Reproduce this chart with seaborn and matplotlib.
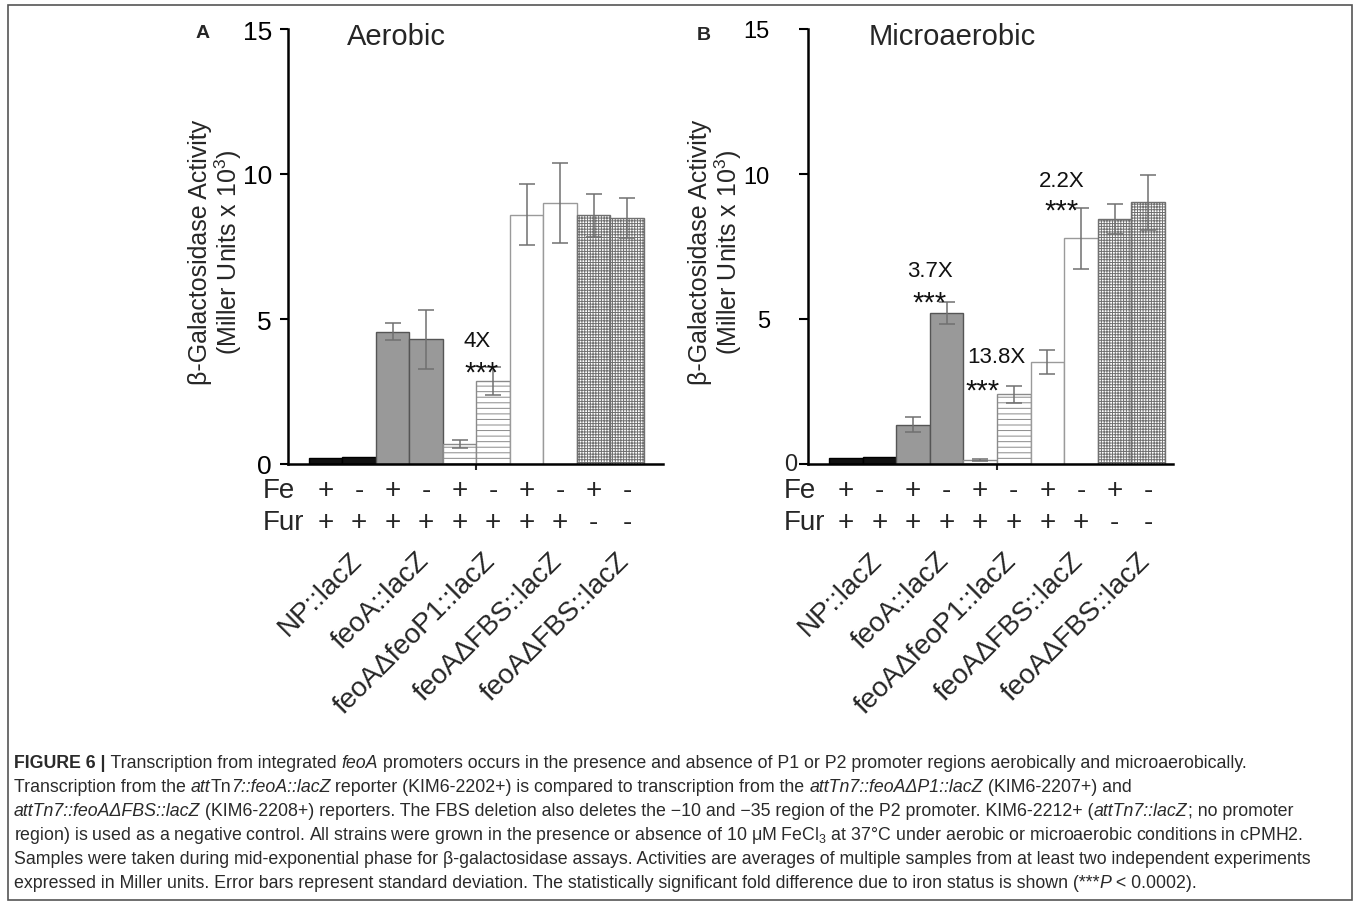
import pandas as pd
import seaborn as sns
import matplotlib.pyplot as plt
import matplotlib.transforms as mtransforms
from matplotlib.patches import Rectangle

# ---- data (bar order: Fe +/- for each strain) ----
strains = ["NP::lacZ", "feoA::lacZ", "feoAΔfeoP1::lacZ", "feoAΔFBS::lacZ", "feoAΔFBS::lacZ"]
fe_signs = ["+", "-", "+", "-", "+", "-", "+", "-", "+", "-"]
fur_signs = ["+", "+", "+", "+", "+", "+", "+", "+", "-", "-"]

aerobic_mean = [0.20, 0.25, 4.56, 4.30, 0.69, 2.87, 8.59, 9.01, 8.57, 8.48]
aerobic_sd = [0.0, 0.0, 0.29, 1.02, 0.15, 0.49, 1.05, 1.38, 0.75, 0.70]
micro_mean = [0.20, 0.25, 1.35, 5.20, 0.14, 2.41, 3.52, 7.79, 8.45, 9.03]
micro_sd = [0.0, 0.0, 0.26, 0.37, 0.02, 0.29, 0.42, 1.05, 0.52, 0.95]

# fold-change notes: text, bar position, value (baseline)
aerobic_notes = [("4X", 4.51, 4.07), ("***", 4.66, 2.86)]
micro_notes = [("3.7X", 2.50, 6.49), ("***", 2.50, 5.28),
               ("13.8X", 4.47, 3.52), ("***", 4.08, 2.24),
               ("2.2X", 6.43, 9.60), ("***", 6.43, 8.45)]

# bar styles per bar
fills = ["#111111"] * 2 + ["#999999"] * 2 + ["white"] * 6
edges = ["#000000"] * 2 + ["#555555"] * 2 + ["#8a8a8a"] * 2 + ["#9a9a9a"] * 2 + ["#707070"] * 2
hatches = [None] * 4 + ["---"] * 2 + [None] * 2 + ["++++++"] * 2

W, H = 1360, 904

sns.set_style("ticks")
plt.rcParams["font.family"] = ["Liberation Sans", "DejaVu Sans"]
plt.rcParams["mathtext.fontset"] = "custom"
plt.rcParams["mathtext.rm"] = "Liberation Sans"
plt.rcParams["mathtext.it"] = "Liberation Sans:italic"
plt.rcParams["mathtext.bf"] = "Liberation Sans:bold"
plt.rcParams["hatch.linewidth"] = 0.7

fig = plt.figure(figsize=(W / 100, H / 100), dpi=100)


def px_axes(left, top, right, bottom):
    return fig.add_axes([left / W, 1 - bottom / H, (right - left) / W, (bottom - top) / H])


def draw_panel(ax, means, sds, notes, xlim, tick_size, tick_len, tick_pad):
    df = pd.DataFrame({"bar": list(range(10)), "value": means})
    sns.barplot(data=df, x="bar", y="value", ax=ax, width=1.0, color="white",
                saturation=1, errorbar=None, linewidth=1.0)
    for patch, fc, ec, hatch in zip(ax.patches, fills, edges, hatches):
        patch.set_facecolor(fc)
        patch.set_edgecolor(ec)
        patch.set_linewidth(1.0)
        if hatch:
            patch.set_hatch(hatch)

    pos = [i for i, s in enumerate(sds) if s > 0]
    ax.errorbar(pos, [means[i] for i in pos], yerr=[sds[i] for i in pos], fmt="none",
                ecolor="#707070", elinewidth=1.1, capsize=5.5, capthick=1.1, zorder=5)

    for text, x, y in notes:
        size = 21 if text == "***" else 16
        ax.text(x, y, text, fontsize=size, ha="center", va="baseline", color="#111111", zorder=6)

    ax.set_xlim(*xlim)
    ax.set_ylim(0, 15)
    ax.set_yticks([0, 5, 10, 15])
    ax.set_xticks([4.5])
    ax.set_xticklabels([""])
    ax.set_xlabel("")
    ax.set_ylabel("")
    sns.despine(ax=ax)
    for side in ("left", "bottom"):
        ax.spines[side].set_linewidth(1.8)
        ax.spines[side].set_color("black")
    ax.tick_params(axis="y", labelsize=tick_size, length=tick_len, width=1.5, pad=tick_pad,
                   direction="out", colors="black")
    ax.tick_params(axis="x", length=4, width=1.5, direction="out")

    # Fe / Fur rows and strain labels below the axis
    trans = mtransforms.blended_transform_factory(ax.transData, ax.transAxes)
    for i in range(10):
        ax.text(i, -0.076, fe_signs[i], transform=trans, fontsize=20, ha="center",
                va="baseline", clip_on=False)
        ax.text(i, -0.150, fur_signs[i], transform=trans, fontsize=20, ha="center",
                va="baseline", clip_on=False)
    ax.text(-0.067, -0.076, "Fe", transform=ax.transAxes, fontsize=20, ha="left", va="baseline")
    ax.text(-0.067, -0.150, "Fur", transform=ax.transAxes, fontsize=20, ha="left", va="baseline")
    for k, name in enumerate(strains):
        ax.text(2 * k + 0.5 + 0.45, -0.212, name, transform=trans, fontsize=20, rotation=45,
                rotation_mode="anchor", ha="right", va="center", clip_on=False)


ax_a = px_axes(288, 30, 663, 465)
ax_b = px_axes(808, 30, 1173, 465)

draw_panel(ax_a, aerobic_mean, aerobic_sd, aerobic_notes, (-1.127, 10.07), 19, 5.8, 5.8)
draw_panel(ax_b, micro_mean, micro_sd, micro_notes, (-1.125, 9.74), 17, 6.5, 21)

# panel B draws its zero label close to the axis
ax_b.set_yticklabels(["", "5", "10", "15"])
ax_b.text(-0.030, 0, "0", transform=mtransforms.blended_transform_factory(ax_b.transAxes, ax_b.transData),
          fontsize=17, ha="right", va="center")

# titles, panel letters, y labels
ax_a.text(0.29, 0.984, "Aerobic", transform=ax_a.transAxes, fontsize=21, ha="center", va="center")
ax_b.text(0.395, 0.984, "Microaerobic", transform=ax_b.transAxes, fontsize=21, ha="center", va="center")
fig.text(203 / W, 1 - 33 / H, "A", fontsize=14, fontweight="bold", ha="center", va="center")
fig.text(704 / W, 1 - 35 / H, "B", fontsize=14, fontweight="bold", ha="center", va="center")
ylab = "β-Galactosidase Activity\n(Miller Units x 10$^3$)"
fig.text(216 / W, 1 - 252 / H, ylab, fontsize=18, rotation=90, ha="center", va="center",
         linespacing=1.05)
fig.text(716 / W, 1 - 252 / H, ylab, fontsize=18, rotation=90, ha="center", va="center",
         linespacing=1.05)

# ---- caption with mixed italic / bold runs ----
caption = [
    [("FIGURE 6 |", "b"), (" Transcription from integrated ", ""), ("feoA", "i"),
     (" promoters occurs in the presence and absence of P1 or P2 promoter regions aerobically and microaerobically.", "")],
    [("Transcription from the ", ""), ("att", "i"), ("Tn", ""), ("7::feoA::lacZ", "i"),
     (" reporter (KIM6-2202+) is compared to transcription from the ", ""), ("attTn7::feoAΔP1::lacZ", "i"),
     (" (KIM6-2207+) and", "")],
    [("attTn7::feoAΔFBS::lacZ", "i"),
     (" (KIM6-2208+) reporters. The FBS deletion also deletes the \u221210 and \u221235 region of the P2 promoter. KIM6-2212+ (", ""),
     ("attTn7::lacZ", "i"), ("; no promoter", "")],
    [("region) is used as a negative control. All strains were grown in the presence or absence of 10 \u03bcM FeCl$_3$ at 37\u00b0C under aerobic or microaerobic conditions in cPMH2.", "")],
    [("Samples were taken during mid-exponential phase for \u03b2-galactosidase assays. Activities are averages of multiple samples from at least two independent experiments", "")],
    [("expressed in Miller units. Error bars represent standard deviation. The statistically significant fold difference due to iron status is shown (***", ""),
     ("P", "i"), (" < 0.0002).", "")],
]
cap_size = 12.8
cap_baselines = [768, 792, 816, 840, 864, 888]
renderer = fig.canvas.get_renderer()
ident = mtransforms.IdentityTransform()


def run_width(text, style):
    kw = dict(fontsize=cap_size, fontstyle="italic" if "i" in style else "normal",
              fontweight="bold" if "b" in style else "normal")
    t1 = fig.text(0, 0, text + "|", transform=ident, **kw)
    t2 = fig.text(0, 0, "|", transform=ident, **kw)
    w = t1.get_window_extent(renderer).width - t2.get_window_extent(renderer).width
    t1.remove()
    t2.remove()
    return w


for line, base in zip(caption, cap_baselines):
    x = 14
    for text, style in line:
        fig.text(x, H - base, text, transform=ident, fontsize=cap_size, color="#2a2a2a",
                 fontstyle="italic" if "i" in style else "normal",
                 fontweight="bold" if "b" in style else "normal", ha="left", va="baseline")
        x += run_width(text, style)

# frame around the figure
fig.add_artist(Rectangle((8 / W, 3 / H), (1352 - 8) / W, (901 - 6) / H, transform=fig.transFigure,
                         fill=False, edgecolor="#555555", linewidth=1.2))

fig.savefig("out.png", dpi=100)
